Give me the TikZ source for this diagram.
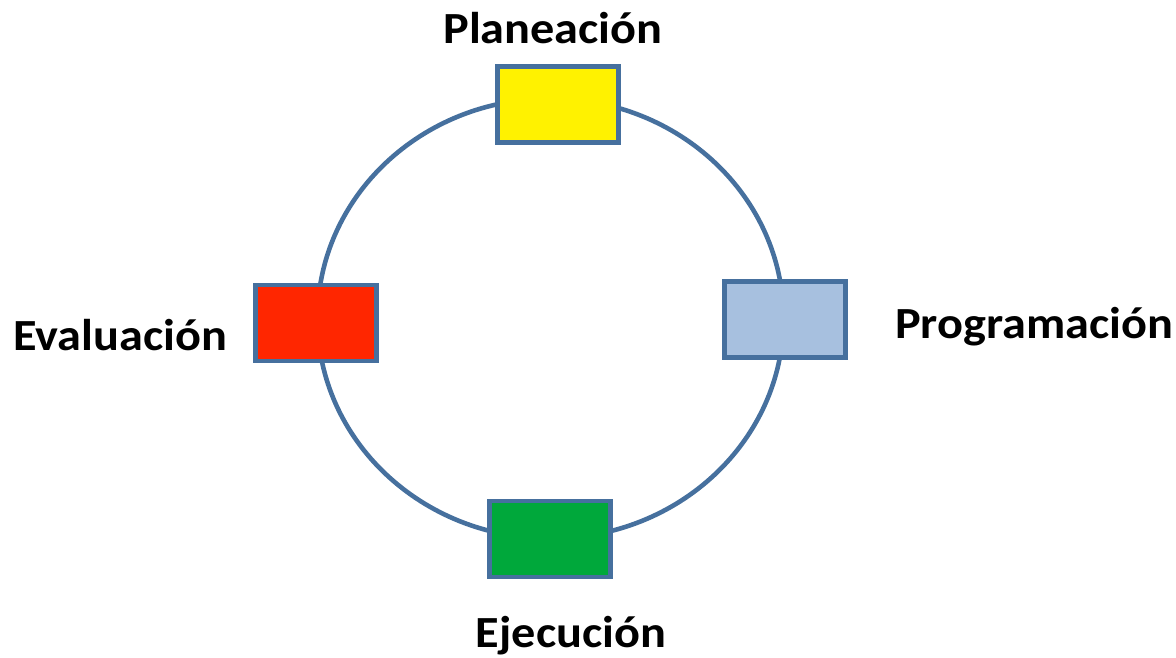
\documentclass[tikz,border=0pt]{standalone}
\usepackage{fontspec}
\setmainfont{Carlito}
\newfontfamily\stagefont[FakeStretch=1.085]{Carlito}

\definecolor{ringblue}{HTML}{46709E}
\definecolor{progblue}{HTML}{A7C0DF}
\definecolor{evalred}{HTML}{FF2600}
\definecolor{ejecgreen}{HTML}{00A83B}

\begin{document}
\begin{tikzpicture}[
		x=1pt,
		y=-1pt,
		stagebox/.style={
			shape=rectangle,
			draw=ringblue,
			line width=4.5pt,
			minimum width=121pt,
			minimum height=76pt,
		},
		stagelabel/.style={
			font=\stagefont\fontsize{44.5}{52}\selectfont\bfseries,
			inner sep=0pt,
		},
	]
		\useasboundingbox (0,0) rectangle (1176,657);
		\draw[ringblue, line width=4.6pt] (550.5,318.5) ellipse [x radius=233pt, y radius=220pt];

		\node[stagebox, fill=yellow] (plan) at (558,104.5) {};
		\node[stagebox, fill=progblue] (prog) at (785,319.5) {};
		\node[stagebox, fill=evalred] (eval) at (316,323) {};
		\node[stagebox, fill=ejecgreen] (ejec) at (550,539) {};

		\node[stagelabel, anchor=base] (planlbl) at (553,43) {Planeación};
		\node[stagelabel, anchor=base west] (proglbl) at (895,338) {Programación};
		\node[stagelabel, anchor=base west] (evallbl) at (13,350) {Evaluación};
		\node[stagelabel, anchor=base] (ejeclbl) at (571,647) {Ejecución};
	\end{tikzpicture}
\end{document}
